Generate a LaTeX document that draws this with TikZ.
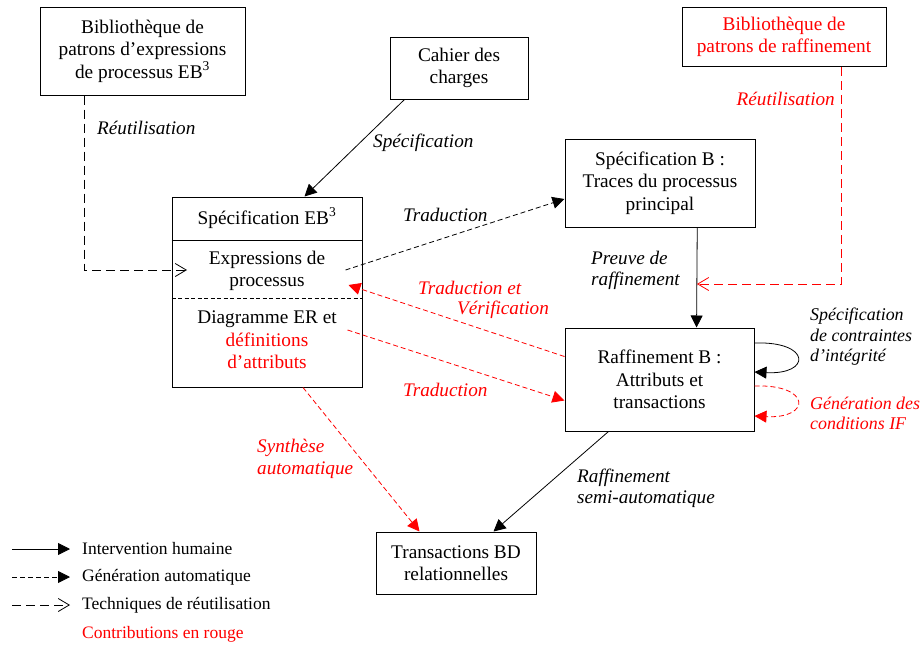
\documentclass[tikz,border=0pt]{standalone}
\usepackage{fontspec}
\setmainfont{Liberation Serif}
\usetikzlibrary{arrows.meta,calc}
\definecolor{rouge}{RGB}{255,0,0}

\begin{document}
\begin{tikzpicture}[x=1pt,y=-1pt,
  font=\fontsize{19.3}{22.5}\selectfont,
  box/.style={draw,line width=1pt,inner sep=0pt,align=center},
  lbl/.style={font=\fontsize{19.2}{21.5}\selectfont\itshape,inner sep=0pt,align=left},
  looplbl/.style={font=\fontsize{17.9}{20.5}\selectfont\itshape,inner sep=0pt,align=left},
  plain/.style={inner sep=0pt,align=center},
  legtext/.style={inner sep=0pt,anchor=west,font=\fontsize{17.5}{21}\selectfont},
  human/.style={line width=0.8pt,-{Triangle[length=12pt,width=12pt]}},
  autogen/.style={line width=0.8pt,dash pattern=on 5pt off 3pt,-{Triangle[length=12pt,width=12pt]}},
  reuse/.style={line width=0.8pt,dash pattern=on 9pt off 5pt,-{Straight Barb[length=11pt,width=13pt,line width=0.8pt]}},
]
\useasboundingbox (0,0) rectangle (922,648);

% boxes
\node[box,minimum width=205pt,minimum height=88pt] (libeb) at (142.5,51)
  {Bibliothèque de\\patrons d’expressions\\de processus EB\textsuperscript{3}};
\node[box,minimum width=138pt,minimum height=62pt] (cahier) at (459,68)
  {Cahier des\\charges};
\node[box,minimum width=204pt,minimum height=59pt,text=rouge] (redlib) at (784,37)
  {Bibliothèque de\\patrons de raffinement};
\node[box,minimum width=190pt,minimum height=88pt] (specb) at (660,183)
  {Spécification B :\\Traces du processus\\principal};
\node[box,minimum width=189pt,minimum height=103pt] (raff) at (659.5,379.5)
  {Raffinement B :\\Attributs et\\transactions};
\node[box,minimum width=160pt,minimum height=62pt] (trans) at (456,563)
  {Transactions BD\\relationnelles};

% the EB3 specification with its three compartments
\node[box,minimum width=190pt,minimum height=190pt] (spec) at (267,292) {};
\draw[line width=1pt] ($(spec.north west)+(0,44)$) -- ($(spec.north east)+(0,44)$);
\draw[line width=0.8pt,dash pattern=on 4pt off 2.5pt] ($(spec.north west)+(0,102)$) -- ($(spec.north east)+(0,102)$);
\node[plain] (specT) at (267,218) {Spécification EB\textsuperscript{3}};
\node[plain] (expr) at (267,271) {Expressions de\\processus};
\node[plain] (diag) at (267,340) {Diagramme ER et\\\textcolor{rouge}{définitions}\\\textcolor{rouge}{d’attributs}};

% connectors
\coordinate (reuseEnd) at (187,270);
\draw[reuse] ($(libeb.south west)+(45,0)$) |- (reuseEnd);
\node[lbl,anchor=west] (lReuse) at (97,128) {Réutilisation};

\draw[human] ($(cahier.south west)+(15,0)$) -- ($(spec.north west)+(133,0)$);
\node[lbl,anchor=west] (lSpec) at (373,143) {Spécification};

\draw[autogen] ($(spec.east)+(-17,-22)$) -- ($(specb.west)+(0,16)$);
\node[lbl,anchor=west] (lTrad) at (403,215) {Traduction};

\draw[human] ($(specb.south west)!0.695!(specb.south east)$) -- ($(raff.north west)!0.695!(raff.north east)$);
\node[lbl,anchor=west] (lPreuve) at (591,270.5) {Preuve de\\raffinement};

\coordinate (refJoin) at (697,284);
\draw[reuse,rouge] ($(redlib.south west)+(160,0)$) |- (refJoin);
\node[lbl,anchor=east,text=rouge] (lReuseR) at (835,99) {Réutilisation};

\draw[autogen,rouge] ($(raff.west)+(0,-23)$) -- ($(spec.east)+(-14,-7)$);
\node[lbl,anchor=west,text=rouge] (lTradV1) at (418,288) {Traduction et};
\node[lbl,anchor=west,text=rouge] (lTradV2) at (457,310) {Vérification};

\draw[autogen,rouge] ($(spec.east)+(-15,38)$) -- ($(raff.west)+(0,21)$);
\node[lbl,anchor=west,text=rouge] (lTradR) at (403,390) {Traduction};

\draw[autogen,rouge] ($(spec.south)+(36,0)$) -- ($(trans.north west)+(44,0)$);
\node[lbl,anchor=west,text=rouge] (lSynth) at (257,459) {Synthèse\\automatique};

\draw[human] ($(raff.south west)+(44,0)$) -- ($(trans.north east)+(-43,0)$);
\node[lbl,anchor=west] (lSemi) at (577,488.5) {Raffinement\\semi-automatique};

% self loops on the refinement box
\draw[human] ($(raff.east)+(0,-36.5)$) .. controls +(57,-2) and +(57,3) .. ($(raff.east)+(0,-7.5)$);
\node[looplbl,anchor=west] (lContr) at (810,337)
  {Spécification\\de contraintes\\d’intégrité};
\draw[autogen,rouge] ($(raff.east)+(0,6.5)$) .. controls +(57,-2) and +(57,3) .. ($(raff.east)+(0,36.5)$);
\node[looplbl,anchor=west,text=rouge] (lGen) at (810,413.5)
  {Génération des\\conditions IF};

% legend
\coordinate (lg1a) at (12,549); \coordinate (lg1b) at (70,549);
\coordinate (lg2a) at (12,577); \coordinate (lg2b) at (70,577);
\coordinate (lg3a) at (12,605); \coordinate (lg3b) at (70,605);
\draw[human] (lg1a) -- (lg1b);
\draw[autogen] (lg2a) -- (lg2b);
\draw[reuse] (lg3a) -- (lg3b);
\node[legtext] (lgT1) at (82,549) {Intervention humaine};
\node[legtext] (lgT2) at (82,577) {Génération automatique};
\node[legtext] (lgT3) at (82,605) {Techniques de réutilisation};
\node[legtext,text=rouge] (lgT4) at (82,634) {Contributions en rouge};
\end{tikzpicture}
\end{document}
